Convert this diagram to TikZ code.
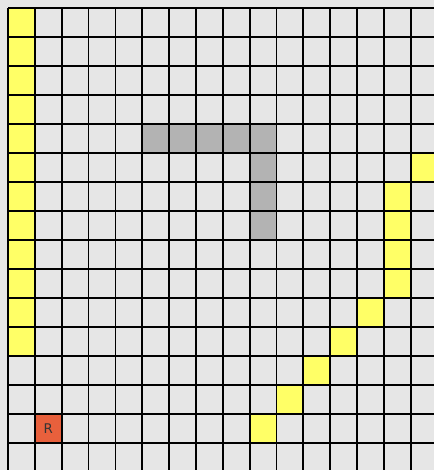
\documentclass[tikz,border=0pt]{standalone}
\usepackage{fontspec}
\setmainfont{DejaVu Sans}
\definecolor{cellbg}{HTML}{E6E6E6}
\definecolor{wall}{HTML}{B3B3B3}
\definecolor{path}{HTML}{FFFF66}
\definecolor{robot}{HTML}{E8603C}
\begin{document}
\begin{tikzpicture}[x=0.75pt,y=-0.75pt,
  gridline/.style={line width=1.3pt,black}]
\def\cw{26.85}\def\ch{29}
\useasboundingbox (0,0) rectangle (434,470);
\fill[cellbg] (0,0) rectangle (434,470);
% left yellow column
\foreach \r in {0,...,11}{
  \fill[path] ({8+0*\cw},{8+\r*\ch}) rectangle ++(\cw,\ch);
}
% gray wall
\foreach \c/\r in {5/4,6/4,7/4,8/4,9/4,9/5,9/6,9/7}{
  \fill[wall] ({8+\c*\cw},{8+\r*\ch}) rectangle ++(\cw,\ch);
}
% right yellow path
\foreach \c/\r in {15/5,14/6,14/7,14/8,14/9,13/10,12/11,11/12,10/13,9/14}{
  \fill[path] ({8+\c*\cw},{8+\r*\ch}) rectangle ++(\cw,\ch);
}
% robot
\fill[robot] ({8+1*\cw},{8+14*\ch}) rectangle ++(\cw,\ch);
\node[font=\fontsize{10}{11}\selectfont,text=black!80] (R) at ({8+1.5*\cw},{8+14.5*\ch}) {R};
% grid lines
\foreach \c in {0,...,15}{
  \draw[gridline] ({8+\c*\cw},8) -- ({8+\c*\cw},470);
}
\foreach \r in {0,...,15}{
  \draw[gridline] (8,{8+\r*\ch}) -- (434,{8+\r*\ch});
}
\end{tikzpicture}
\end{document}
